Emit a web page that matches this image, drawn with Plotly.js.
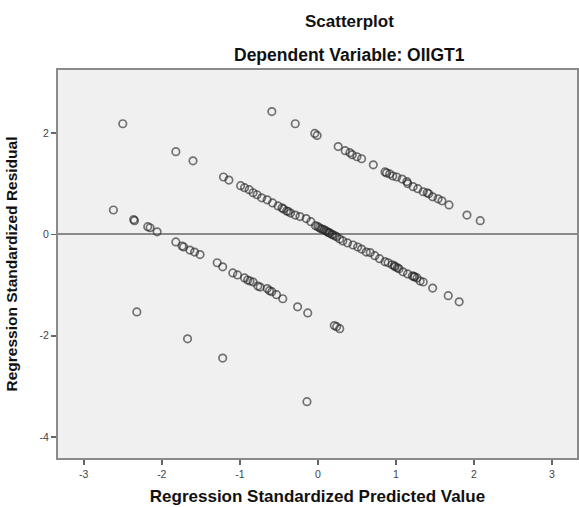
<!DOCTYPE html>
<html>
<head>
<meta charset="utf-8">
<script src="https://cdn.plot.ly/plotly-3.0.1.min.js"></script>
<style>
  html, body { margin: 0; padding: 0; background: #ffffff; }
  #chart { width: 579px; height: 507px; }
</style>
</head>
<body>
<div id="chart"></div>
<script>
// Regression Standardized Predicted Value (x) and Residual (y)
const upperPred = [-0.59, -0.29, -0.04, -0.01, 0.26, 0.35, 0.41, 0.44, 0.50, 0.56, 0.71, 0.86, 0.88, 0.92, 0.96, 1.01, 1.08, 1.14, 1.15, 1.22, 1.28, 1.35, 1.40, 1.42, 1.47, 1.54, 1.59, 1.68, 1.91, 2.08];
const upperResid = [2.42, 2.18, 1.99, 1.95, 1.73, 1.65, 1.61, 1.57, 1.53, 1.49, 1.37, 1.23, 1.21, 1.19, 1.15, 1.13, 1.09, 1.04, 1.00, 0.94, 0.90, 0.84, 0.82, 0.80, 0.74, 0.70, 0.66, 0.58, 0.38, 0.27];

const middlePred = [-1.21, -1.14, -0.99, -0.94, -0.88, -0.83, -0.78, -0.72, -0.65, -0.58, -0.51, -0.46, -0.40, -0.35, -0.29, -0.23, -0.15, -0.09, -0.03, 0.00, 0.04, 0.08, 0.12, 0.15, 0.19, 0.24, 0.28, 0.32, 0.38, 0.45, 0.51, 0.56, 0.62, 0.67, 0.73, 0.79, 0.86, 0.90, 0.95, 0.99, 1.04, 1.09, 1.15, 1.21, 1.24, 1.27, 1.31, 1.35, 1.47, 1.67, 1.81, 0.02, 0.06, 0.10, 0.14, 0.18, 0.22, -0.44, -0.38, 0.98, 1.02, 1.23];
const middleResid = [1.13, 1.07, 0.96, 0.92, 0.88, 0.82, 0.78, 0.72, 0.68, 0.62, 0.56, 0.52, 0.46, 0.42, 0.38, 0.35, 0.31, 0.25, 0.17, 0.15, 0.11, 0.09, 0.05, 0.03, -0.01, -0.05, -0.09, -0.13, -0.17, -0.21, -0.25, -0.29, -0.35, -0.36, -0.42, -0.48, -0.54, -0.56, -0.60, -0.64, -0.68, -0.74, -0.78, -0.82, -0.84, -0.86, -0.92, -0.94, -1.06, -1.21, -1.33, 0.13, 0.10, 0.07, 0.03, 0.00, -0.03, 0.50, 0.45, -0.62, -0.66, -0.83];

const lowerPred = [-2.62, -2.36, -2.35, -2.18, -2.15, -2.06, -1.82, -1.74, -1.72, -1.64, -1.58, -1.51, -1.29, -1.22, -1.09, -1.03, -0.94, -0.90, -0.87, -0.83, -0.77, -0.74, -0.65, -0.62, -0.59, -0.53, -0.45, -0.26, -0.13, 0.21, 0.24, 0.28];
const lowerResid = [0.48, 0.29, 0.27, 0.15, 0.13, 0.05, -0.15, -0.23, -0.25, -0.31, -0.35, -0.40, -0.56, -0.64, -0.76, -0.80, -0.86, -0.90, -0.92, -0.94, -1.02, -1.04, -1.07, -1.11, -1.13, -1.19, -1.27, -1.43, -1.55, -1.80, -1.82, -1.86];

const otherPred = [-2.50, -1.82, -1.60, -2.32, -1.67, -1.22, -0.14];
const otherResid = [2.18, 1.63, 1.45, -1.53, -2.06, -2.44, -3.30];

const xTicks = [-3, -2, -1, 0, 1, 2, 3];
const yTicks = [-4, -2, 0, 2];

const chartTitle = "Scatterplot";
const chartSubtitle = "Dependent Variable: OIIGT1";
const xTitle = "Regression Standardized Predicted Value";
const yTitle = "Regression Standardized Residual";

const xs = upperPred.concat(middlePred, lowerPred, otherPred);
const ys = upperResid.concat(middleResid, lowerResid, otherResid);

const trace = {
  type: "scatter",
  mode: "markers",
  x: xs,
  y: ys,
  marker: {
    symbol: "circle-open",
    size: 7.5,
    color: "rgba(35,35,35,0.62)",
    line: { width: 1.7, color: "rgba(35,35,35,0.62)" }
  },
  hoverinfo: "x+y",
  showlegend: false
};

const FONT = "'Liberation Sans', Arial, sans-serif";

const layout = {
  width: 579,
  height: 507,
  margin: { l: 58, r: 2, t: 70, b: 49 },
  paper_bgcolor: "#ffffff",
  plot_bgcolor: "#f0f0f0",
  font: { family: FONT, color: "#222" },
  xaxis: {
    range: [-3.33, 3.32],
    tickvals: xTicks,
    ticktext: xTicks.map(String),
    ticks: "outside",
    ticklen: 5,
    tickwidth: 1.5,
    tickcolor: "#666",
    tickfont: { size: 10.5, color: "#444", family: FONT },
    showgrid: false,
    zeroline: false,
    showline: true,
    mirror: true,
    linecolor: "#8a8a8a",
    linewidth: 2,
    title: { text: xTitle, font: { size: 17, color: "#111", family: FONT, weight: "bold" }, standoff: 12 }
  },
  yaxis: {
    range: [-4.41, 3.24],
    tickvals: yTicks,
    ticktext: yTicks.map(String),
    ticks: "outside",
    ticklen: 5,
    tickwidth: 1.5,
    tickcolor: "#666",
    tickfont: { size: 10.5, color: "#444", family: FONT },
    showgrid: false,
    zeroline: true,
    zerolinecolor: "#8a8a8a",
    zerolinewidth: 2,
    showline: true,
    mirror: true,
    linecolor: "#8a8a8a",
    linewidth: 2,
    title: { text: yTitle, font: { size: 15.5, color: "#111", family: FONT, weight: "bold" }, standoff: 18 }
  },
  annotations: [
    { text: "<b>" + chartTitle + "</b>", xref: "paper", yref: "paper", x: 0.561, y: 1.126, xanchor: "center", yanchor: "middle", showarrow: false, font: { size: 17, color: "#111", family: FONT } },
    { text: "<b>" + chartSubtitle + "</b>", xref: "paper", yref: "paper", x: 0.561, y: 1.039, xanchor: "center", yanchor: "middle", showarrow: false, font: { size: 17.5, color: "#111", family: FONT } }
  ]
};

Plotly.newPlot("chart", [trace], layout, { displayModeBar: false, staticPlot: true });
</script>
</body>
</html>
